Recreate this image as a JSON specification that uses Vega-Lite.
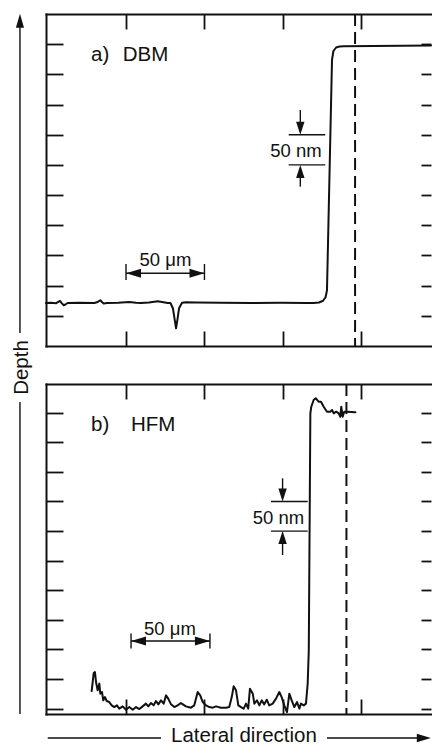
{
  "$schema": "https://vega.github.io/schema/vega-lite/v6.json",
  "background": "white",
  "padding": {"left": 11, "top": 13, "right": 0, "bottom": 0},
  "config": {
    "view": {"stroke": null},
    "font": "Liberation Sans",
    "axis": {
      "labels": false,
      "grid": false,
      "domainColor": "#111",
      "domainWidth": 2,
      "domainCap": "square",
      "tickColor": "#111",
      "tickWidth": 1.8
    }
  },
  "datasets": {
    "traceA": [
      {"x": -1, "y": 71.3}, {"x": 2.2, "y": 71.6}, {"x": 5.5, "y": 71.0}, {"x": 7.9, "y": 74.6},
      {"x": 9.0, "y": 71.0}, {"x": 10.3, "y": 67.5}, {"x": 11.8, "y": 69.5}, {"x": 12.8, "y": 71.3},
      {"x": 20, "y": 71.6}, {"x": 29.8, "y": 71.3}, {"x": 32, "y": 73.0}, {"x": 33.6, "y": 75.8},
      {"x": 35, "y": 72.0}, {"x": 35.8, "y": 70.3}, {"x": 37.9, "y": 71.3}, {"x": 45, "y": 71.6},
      {"x": 52.1, "y": 73.0}, {"x": 56.4, "y": 71.6}, {"x": 59.5, "y": 71.3}, {"x": 64.6, "y": 72.0},
      {"x": 70.2, "y": 74.1}, {"x": 76.6, "y": 71.3}, {"x": 78.3, "y": 71.3}, {"x": 79.9, "y": 62.5},
      {"x": 80.9, "y": 45.9}, {"x": 81.9, "y": 29.3}, {"x": 82.9, "y": 45.9}, {"x": 83.8, "y": 62.5},
      {"x": 85.7, "y": 71.6}, {"x": 88.2, "y": 72.5}, {"x": 94.6, "y": 72.0}, {"x": 110.5, "y": 71.6},
      {"x": 129.7, "y": 71.3}, {"x": 148.8, "y": 71.5}, {"x": 164.7, "y": 71.3}, {"x": 169.6, "y": 71.3},
      {"x": 173.0, "y": 72.1}, {"x": 175.6, "y": 75.0}, {"x": 177.2, "y": 80.8}, {"x": 178.1, "y": 92.4},
      {"x": 181.3, "y": 474.0}, {"x": 182.2, "y": 488.7}, {"x": 183.9, "y": 494.5}, {"x": 186.1, "y": 496.1},
      {"x": 188.8, "y": 496.4}, {"x": 244.4, "y": 497.8}
    ],
    "traceB": [
      {"x": 28.1, "y": 29.8}, {"x": 29.4, "y": 60.2}, {"x": 30.2, "y": 61.9}, {"x": 30.9, "y": 45.0},
      {"x": 31.9, "y": 31.0}, {"x": 33.0, "y": 42.3}, {"x": 33.6, "y": 25.4}, {"x": 34.7, "y": 28.1},
      {"x": 35.5, "y": 14.0}, {"x": 36.6, "y": 19.6}, {"x": 37.7, "y": 12.9}, {"x": 39.3, "y": 11.2},
      {"x": 40.9, "y": 5.6}, {"x": 42.5, "y": 2.7}, {"x": 44.2, "y": 5.6}, {"x": 45.7, "y": 0},
      {"x": 47.9, "y": 3.9}, {"x": 50.0, "y": -1.7}, {"x": 52.1, "y": 2.7}, {"x": 54.3, "y": -1.7},
      {"x": 56.4, "y": 2.7}, {"x": 58.5, "y": -0.7}, {"x": 60.6, "y": 3.9}, {"x": 62.7, "y": 8.5},
      {"x": 64.2, "y": 3.9}, {"x": 65.9, "y": 9.5}, {"x": 67.6, "y": 5.6}, {"x": 69.1, "y": 12.9},
      {"x": 70.6, "y": 7.3}, {"x": 72.3, "y": 14.0}, {"x": 74.0, "y": 8.5}, {"x": 75.5, "y": 22.5},
      {"x": 76.9, "y": 16.9}, {"x": 78.7, "y": 7.3}, {"x": 80.8, "y": 2.7}, {"x": 82.9, "y": 5.6},
      {"x": 85.0, "y": 9.5}, {"x": 88.2, "y": 3.9}, {"x": 91.4, "y": 1.7}, {"x": 93.5, "y": 5.6},
      {"x": 95.7, "y": 28.1}, {"x": 97.3, "y": 22.5}, {"x": 98.9, "y": 11.2}, {"x": 101.0, "y": 5.6},
      {"x": 103.1, "y": 2.7}, {"x": 105.3, "y": 1.7}, {"x": 107.4, "y": 3.9}, {"x": 110.5, "y": 1.7},
      {"x": 113.7, "y": 1.7}, {"x": 115.8, "y": 2.7}, {"x": 117.4, "y": 19.6}, {"x": 118.6, "y": 37.7},
      {"x": 120.1, "y": 31.0}, {"x": 121.6, "y": 5.6}, {"x": 123.3, "y": 2.7}, {"x": 125.0, "y": 0},
      {"x": 126.5, "y": 8.5}, {"x": 127.9, "y": 0}, {"x": 129.0, "y": 33.8}, {"x": 130.8, "y": 25.4},
      {"x": 131.8, "y": 8.5}, {"x": 133.5, "y": 14.0}, {"x": 135.0, "y": 5.6}, {"x": 136.5, "y": 14.0},
      {"x": 138.1, "y": 7.3}, {"x": 139.7, "y": 15.2}, {"x": 141.3, "y": 5.6}, {"x": 143.5, "y": 8.5},
      {"x": 145.6, "y": 16.9}, {"x": 147.7, "y": 28.1}, {"x": 149.2, "y": 19.6}, {"x": 150.9, "y": 5.6},
      {"x": 152.6, "y": -5.8}, {"x": 154.1, "y": 25.4}, {"x": 155.6, "y": 14.0}, {"x": 157.3, "y": 2.7},
      {"x": 159.0, "y": 11.2}, {"x": 160.5, "y": 0}, {"x": 161.5, "y": 8.5}, {"x": 163.3, "y": 5.6},
      {"x": 164.7, "y": 8.5}, {"x": 165.8, "y": 42.3}, {"x": 166.5, "y": 98.6}, {"x": 167.5, "y": 499.0},
      {"x": 168.1, "y": 510.1}, {"x": 169.6, "y": 521.5}, {"x": 170.9, "y": 524.4}, {"x": 172.8, "y": 518.6},
      {"x": 174.3, "y": 518.6}, {"x": 176.0, "y": 510.1}, {"x": 178.1, "y": 501.7}, {"x": 180.2, "y": 501.7},
      {"x": 181.3, "y": 504.6}, {"x": 182.4, "y": 499.0}, {"x": 184.0, "y": 501.7}, {"x": 185.6, "y": 499.0},
      {"x": 186.6, "y": 493.2}, {"x": 187.2, "y": 510.1}, {"x": 188.1, "y": 493.2}, {"x": 189.1, "y": 501.7},
      {"x": 190.9, "y": 501.7}, {"x": 196.2, "y": 500.7}
    ],
    "segA": [
      {"x": 50, "y": 120.4, "x2": 100, "y2": 120.4},
      {"x": 50, "y": 135.8, "x2": 50, "y2": 109.3},
      {"x": 100, "y": 135.8, "x2": 100, "y2": 109.3},
      {"x": 153.7, "y": 350, "x2": 177, "y2": 350},
      {"x": 153.7, "y": 300, "x2": 177, "y2": 300},
      {"x": 161.1, "y": 391, "x2": 161.1, "y2": 356},
      {"x": 161.1, "y": 264, "x2": 161.1, "y2": 294},
      {"x": -17.6, "y": 530, "x2": -17.6, "y2": 21.5}
    ],
    "segB": [
      {"x": 53.2, "y": 114.3, "x2": 103.5, "y2": 114.3},
      {"x": 53.2, "y": 127.2, "x2": 53.2, "y2": 101.8},
      {"x": 103.5, "y": 127.2, "x2": 103.5, "y2": 101.8},
      {"x": 142.4, "y": 350, "x2": 165.8, "y2": 350},
      {"x": 142.4, "y": 300, "x2": 165.8, "y2": 300},
      {"x": 149.8, "y": 389.2, "x2": 149.8, "y2": 356},
      {"x": 149.8, "y": 259.6, "x2": 149.8, "y2": 294},
      {"x": -17.6, "y": 518.1, "x2": -17.6, "y2": -9},
      {"x": 0.1, "y": -49.5, "x2": 72.3, "y2": -49.5},
      {"x": 178.1, "y": -49.5, "x2": 237, "y2": -49.5}
    ],
    "headA": [
      {"x": 50, "y": 120.4, "dir": "left"},
      {"x": 100, "y": 120.4, "dir": "right"},
      {"x": 161.1, "y": 350, "dir": "down"},
      {"x": 161.1, "y": 300, "dir": "up"},
      {"x": -17.6, "y": 550.5, "dir": "depth"}
    ],
    "headB": [
      {"x": 53.2, "y": 114.3, "dir": "left"},
      {"x": 103.5, "y": 114.3, "dir": "right"},
      {"x": 149.8, "y": 350, "dir": "down"},
      {"x": 149.8, "y": 300, "dir": "up"},
      {"x": 244.3, "y": -49.5, "dir": "lateral"}
    ],
    "noteA": [
      {"x": 75.1, "y": 133.0, "label": "50 μm"},
      {"x": 158.3, "y": 313.6, "label": "50 nm"}
    ],
    "noteB": [
      {"x": 78.0, "y": 124.5, "label": "50 μm"},
      {"x": 147.2, "y": 312.0, "label": "50 nm"}
    ],
    "tagA": [
      {"x": 27.7, "y": 472.1, "label": "a)"},
      {"x": 47.9, "y": 472.1, "label": "DBM"}
    ],
    "tagB": [
      {"x": 27.7, "y": 469.1, "label": "b)"},
      {"x": 53.2, "y": 469.1, "label": "HFM"}
    ],
    "depthTitle": [{"x": -16.3, "y": -35.6, "label": "Depth"}],
    "lateralTitle": [{"x": 125.2, "y": -63.1, "label": "Lateral direction"}],
    "edgeA": [{"x": 196}],
    "edgeB": [{"x": 190.5}]
  },
  "spacing": 38,
  "bounds": "flush",
  "vconcat": [
    {
      "width": 385,
      "height": 332,
      "resolve": {"axis": {"x": "independent", "y": "independent"}},
      "layer": [
        {
          "data": {"name": "traceA"},
          "mark": {"type": "line", "color": "#111", "strokeWidth": 2, "strokeJoin": "round", "strokeCap": "round"},
          "encoding": {
            "x": {"field": "x", "type": "quantitative", "scale": {"domain": [-1, 244.4], "nice": false, "zero": false},
                  "axis": {"orient": "bottom", "title": null, "values": [50, 100, 150, 200], "tickSize": -15}},
            "y": {"field": "y", "type": "quantitative", "scale": {"domain": [0, 550], "nice": false, "zero": false},
                  "axis": {"orient": "left", "title": null, "values": [50, 100, 150, 200, 250, 300, 350, 400, 450, 500], "tickSize": -17}}
          }
        },
        {
          "data": {"name": "segA"},
          "mark": {"type": "rule", "color": "#111", "strokeWidth": 1.4, "clip": false},
          "encoding": {
            "x": {"field": "x", "type": "quantitative", "scale": {"domain": [-1, 244.4], "nice": false, "zero": false},
                  "axis": {"orient": "top", "title": null, "values": [50, 100, 150, 200], "tickSize": -15}},
            "y": {"field": "y", "type": "quantitative", "scale": {"domain": [0, 550], "nice": false, "zero": false},
                  "axis": {"orient": "right", "title": null, "domain": false, "values": [50, 100, 150, 200, 250, 300, 350, 400, 450, 500], "tickSize": -10}},
            "x2": {"field": "x2"},
            "y2": {"field": "y2"}
          }
        },
        {
          "data": {"name": "edgeA"},
          "mark": {"type": "rule", "color": "#111", "strokeWidth": 2, "strokeDash": [12, 6]},
          "encoding": {
            "x": {"field": "x", "type": "quantitative", "scale": {"domain": [-1, 244.4], "nice": false, "zero": false}, "axis": null}
          }
        },
        {
          "data": {"name": "headA"},
          "mark": {"type": "point", "filled": true, "opacity": 1, "color": "#111", "strokeWidth": 0, "size": 196, "clip": false},
          "encoding": {
            "x": {"field": "x", "type": "quantitative", "scale": {"domain": [-1, 244.4], "nice": false, "zero": false}, "axis": null},
            "y": {"field": "y", "type": "quantitative", "scale": {"domain": [0, 550], "nice": false, "zero": false}, "axis": null},
            "shape": {"field": "dir", "type": "nominal", "legend": null,
                      "scale": {"domain": ["left", "right", "down", "up", "depth", "lateral"],
                                "range": ["M0,0L2.14,-0.64L2.14,0.64Z", "M0,0L-2.14,-0.64L-2.14,0.64Z", "M0,0L-0.6,-1.86L0.6,-1.86Z", "M0,0L0.6,1.86L-0.6,1.86Z", "M0,0L0.58,2L-0.58,2Z", "M0,0L-2,-0.6L-2,0.6Z"]}}
          }
        },
        {
          "data": {"name": "noteA"},
          "mark": {"type": "text", "color": "#111", "fontSize": 18.5, "align": "center", "baseline": "alphabetic", "clip": false},
          "encoding": {
            "x": {"field": "x", "type": "quantitative", "scale": {"domain": [-1, 244.4], "nice": false, "zero": false}, "axis": null},
            "y": {"field": "y", "type": "quantitative", "scale": {"domain": [0, 550], "nice": false, "zero": false}, "axis": null},
            "text": {"field": "label"}
          }
        },
        {
          "data": {"name": "tagA"},
          "mark": {"type": "text", "color": "#111", "fontSize": 20.5, "align": "left", "baseline": "alphabetic", "clip": false},
          "encoding": {
            "x": {"field": "x", "type": "quantitative", "scale": {"domain": [-1, 244.4], "nice": false, "zero": false}, "axis": null},
            "y": {"field": "y", "type": "quantitative", "scale": {"domain": [0, 550], "nice": false, "zero": false}, "axis": null},
            "text": {"field": "label"}
          }
        },
        {
          "data": {"name": "depthTitle"},
          "mark": {"type": "text", "color": "#111", "fontSize": 20.5, "angle": 270, "align": "center", "baseline": "middle", "clip": false},
          "encoding": {
            "x": {"field": "x", "type": "quantitative", "scale": {"domain": [-1, 244.4], "nice": false, "zero": false}, "axis": null},
            "y": {"field": "y", "type": "quantitative", "scale": {"domain": [0, 550], "nice": false, "zero": false}, "axis": null},
            "text": {"field": "label"}
          }
        }
      ]
    },
    {
      "width": 385,
      "height": 330,
      "resolve": {"axis": {"x": "independent", "y": "independent"}},
      "layer": [
        {
          "data": {"name": "traceB"},
          "mark": {"type": "line", "color": "#111", "strokeWidth": 2, "strokeJoin": "round", "strokeCap": "round"},
          "encoding": {
            "x": {"field": "x", "type": "quantitative", "scale": {"domain": [-1, 244.4], "nice": false, "zero": false},
                  "axis": {"orient": "bottom", "title": null, "values": [50, 100, 150, 200], "tickSize": -15}},
            "y": {"field": "y", "type": "quantitative", "scale": {"domain": [-9, 548.5], "nice": false, "zero": false},
                  "axis": {"orient": "left", "title": null, "values": [0, 50, 100, 150, 200, 250, 300, 350, 400, 450, 500], "tickSize": -17}}
          }
        },
        {
          "data": {"name": "segB"},
          "mark": {"type": "rule", "color": "#111", "strokeWidth": 1.4, "clip": false},
          "encoding": {
            "x": {"field": "x", "type": "quantitative", "scale": {"domain": [-1, 244.4], "nice": false, "zero": false},
                  "axis": {"orient": "top", "title": null, "values": [50, 100, 150, 200], "tickSize": -15}},
            "y": {"field": "y", "type": "quantitative", "scale": {"domain": [-9, 548.5], "nice": false, "zero": false},
                  "axis": {"orient": "right", "title": null, "domain": false, "values": [0, 50, 100, 150, 200, 250, 300, 350, 400, 450, 500], "tickSize": -10}},
            "x2": {"field": "x2"},
            "y2": {"field": "y2"}
          }
        },
        {
          "data": {"name": "edgeB"},
          "mark": {"type": "rule", "color": "#111", "strokeWidth": 2, "strokeDash": [12, 6]},
          "encoding": {
            "x": {"field": "x", "type": "quantitative", "scale": {"domain": [-1, 244.4], "nice": false, "zero": false}, "axis": null}
          }
        },
        {
          "data": {"name": "headB"},
          "mark": {"type": "point", "filled": true, "opacity": 1, "color": "#111", "strokeWidth": 0, "size": 196, "clip": false},
          "encoding": {
            "x": {"field": "x", "type": "quantitative", "scale": {"domain": [-1, 244.4], "nice": false, "zero": false}, "axis": null},
            "y": {"field": "y", "type": "quantitative", "scale": {"domain": [-9, 548.5], "nice": false, "zero": false}, "axis": null},
            "shape": {"field": "dir", "type": "nominal", "legend": null,
                      "scale": {"domain": ["left", "right", "down", "up", "depth", "lateral"],
                                "range": ["M0,0L2.14,-0.64L2.14,0.64Z", "M0,0L-2.14,-0.64L-2.14,0.64Z", "M0,0L-0.6,-1.86L0.6,-1.86Z", "M0,0L0.6,1.86L-0.6,1.86Z", "M0,0L0.58,2L-0.58,2Z", "M0,0L-2,-0.6L-2,0.6Z"]}}
          }
        },
        {
          "data": {"name": "noteB"},
          "mark": {"type": "text", "color": "#111", "fontSize": 18.5, "align": "center", "baseline": "alphabetic", "clip": false},
          "encoding": {
            "x": {"field": "x", "type": "quantitative", "scale": {"domain": [-1, 244.4], "nice": false, "zero": false}, "axis": null},
            "y": {"field": "y", "type": "quantitative", "scale": {"domain": [-9, 548.5], "nice": false, "zero": false}, "axis": null},
            "text": {"field": "label"}
          }
        },
        {
          "data": {"name": "tagB"},
          "mark": {"type": "text", "color": "#111", "fontSize": 20.5, "align": "left", "baseline": "alphabetic", "clip": false},
          "encoding": {
            "x": {"field": "x", "type": "quantitative", "scale": {"domain": [-1, 244.4], "nice": false, "zero": false}, "axis": null},
            "y": {"field": "y", "type": "quantitative", "scale": {"domain": [-9, 548.5], "nice": false, "zero": false}, "axis": null},
            "text": {"field": "label"}
          }
        },
        {
          "data": {"name": "lateralTitle"},
          "mark": {"type": "text", "color": "#111", "fontSize": 20.5, "align": "center", "baseline": "bottom", "clip": false},
          "encoding": {
            "x": {"field": "x", "type": "quantitative", "scale": {"domain": [-1, 244.4], "nice": false, "zero": false}, "axis": null},
            "y": {"field": "y", "type": "quantitative", "scale": {"domain": [-9, 548.5], "nice": false, "zero": false}, "axis": null},
            "text": {"field": "label"}
          }
        }
      ]
    }
  ]
}
